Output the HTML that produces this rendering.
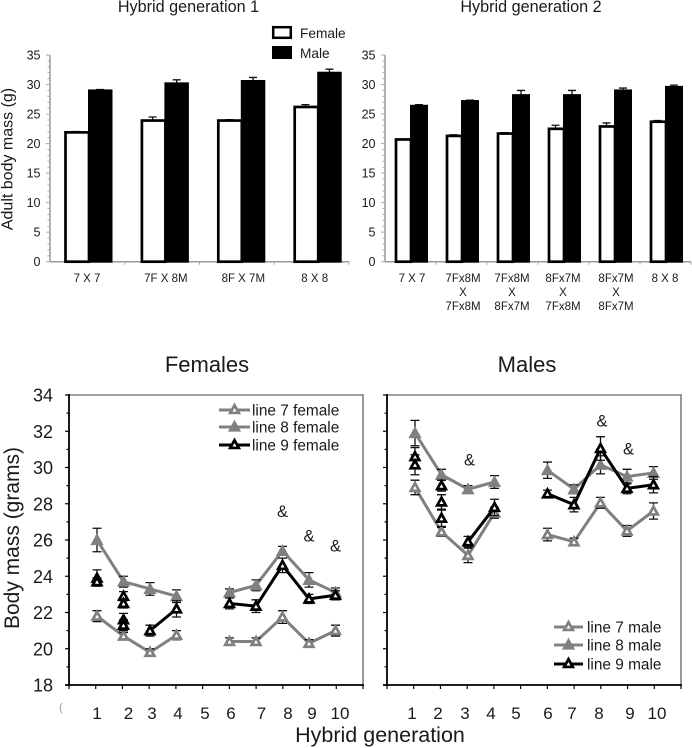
<!DOCTYPE html>
<html lang="en">
<head>
<meta charset="utf-8">
<title>Hybrid generation body mass</title>
<style>
html,body{margin:0;padding:0;background:#fff;width:692px;height:748px;overflow:hidden}
svg{display:block;font-family:"Liberation Sans",sans-serif;fill:#1a1a1a;filter:blur(0.35px)}
text{fill:#1a1a1a}
</style>
</head>
<body>
<svg id="fig" xmlns="http://www.w3.org/2000/svg" width="692" height="748" viewBox="0 0 692 748">
  <text x="188.500" y="12" font-size="16.200" text-anchor="middle">Hybrid generation 1</text>
  <text x="531" y="12" font-size="16.200" text-anchor="middle">Hybrid generation 2</text>
  <text transform="translate(12.500,159) rotate(-90)" font-size="16" text-anchor="middle">Adult body mass (g)</text>
  <rect x="273.200" y="27.200" width="17.600" height="10.600" fill="#fff" stroke="#000" stroke-width="2.500"/>
  <text x="300" y="38" font-size="13.700">Female</text>
  <rect x="272" y="46" width="20" height="13" fill="#000"/>
  <text x="300" y="58" font-size="13.700">Male</text>
  <text x="207" y="372" font-size="22" text-anchor="middle">Females</text>
  <text x="527" y="372" font-size="22" text-anchor="middle">Males</text>
  <text transform="translate(19,538) rotate(-90)" font-size="21" text-anchor="middle">Body mass (grams)</text>
  <text x="380" y="742" font-size="21.500" text-anchor="middle">Hybrid generation</text>
  <text x="59" y="711" font-size="11" style="fill:#999">(</text>
</svg>
<script>
// ---- Top bar charts ----
const g1Categories = [["7 X 7"], ["7F X 8M"], ["8F X 7M"], ["8 X 8"]];
const g1Female = [21.9, 23.9, 23.9, 26.2];
const g1FemaleErr = [0.15, 0.6, 0.15, 0.4];
const g1Male = [29.0, 30.2, 30.6, 32.0];
const g1MaleErr = [0.15, 0.6, 0.6, 0.6];

const g2Categories = [["7 X 7"], ["7Fx8M", "X", "7Fx8M"], ["7Fx8M", "X", "8Fx7M"], ["8Fx7M", "X", "7Fx8M"], ["8Fx7M", "X", "8Fx7M"], ["8 X 8"]];
const g2Female = [20.7, 21.3, 21.7, 22.5, 22.9, 23.7];
const g2FemaleErr = [0, 0.2, 0.15, 0.6, 0.6, 0.2];
const g2Male = [26.4, 27.2, 28.2, 28.2, 29.0, 29.6];
const g2MaleErr = [0.2, 0.15, 0.8, 0.8, 0.4, 0.3];

const barTicks = [0, 5, 10, 15, 20, 25, 30, 35];

// ---- Bottom line charts ----
const generations = [1, 2, 3, 4, 6, 7, 8, 9, 10];
const generationLabels = [1, 2, 3, 4, 5, 6, 7, 8, 9, 10];
const massTicks = [18, 20, 22, 24, 26, 28, 30, 32, 34];

const female7 = [21.8, 20.7, 19.8, 20.75, 20.4, 20.4, 21.75, 20.3, 21.0];
const female7Err = [0.3, 0.2, 0.2, 0.25, 0.2, 0.2, 0.35, 0.2, 0.3];
const female8 = [26.0, 23.7, 23.3, 22.9, 23.1, 23.5, 25.4, 23.8, 23.1];
const female8Err = [0.65, 0.3, 0.35, 0.35, 0.2, 0.3, 0.25, 0.4, 0.25];
const female9 = [null, null, 21.0, 22.2, 22.5, 22.35, 24.6, 22.75, 22.95];
const female9Err = [0, 0, 0.3, 0.45, 0.3, 0.35, 0.4, 0.25, 0.25];
const female9SubGen = [1, 1, 2, 2, 2, 2];
const female9SubVal = [23.9, 23.7, 22.9, 22.5, 21.6, 21.3];
const female9SubErr = [0.45, 0.2, 0.25, 0.25, 0.35, 0.3];

const male7 = [28.9, 26.45, 25.15, 27.5, 26.3, 25.9, 28.05, 26.5, 27.6];
const male7Err = [0.4, 0.25, 0.4, 0.3, 0.35, 0.2, 0.3, 0.3, 0.45];
const male8 = [31.9, 29.6, 28.8, 29.2, 29.85, 28.8, 30.15, 29.5, 29.7];
const male8Err = [0.7, 0.3, 0.2, 0.35, 0.45, 0.25, 0.5, 0.4, 0.35];
const male9 = [null, null, 25.9, 27.8, 28.55, 27.95, 31.05, 28.85, 29.05];
const male9Err = [0, 0, 0.3, 0.45, 0.2, 0.4, 0.65, 0.3, 0.45];
const male9SubGen = [1, 1, 2, 2, 2];
const male9SubVal = [30.6, 30.15, 29.0, 28.1, 27.2];
const male9SubErr = [0.5, 0.55, 0.3, 0.4, 0.45];

const femaleAmpGen = [8, 9, 10];
const femaleAmpVal = [27.6, 26.25, 25.7];
const maleAmpGen = [3, 8, 9];
const maleAmpVal = [30.45, 32.6, 31.05];

const femaleLegend = ["line 7 female", "line 8 female", "line 9 female"];
const maleLegend = ["line 7 male", "line 8 male", "line 9 male"];

// Hand-placed tick label shifts of the source figure (layout, not data)
const femaleLabelShift = [0, 5, 2, 1.5, 2, 1.5, 5.5, 5.5, 3, 4.5];
const maleLabelShift = [-3, -3.5, -3, -3.5, -5, 0.5, -2, -1.5, 3, 3.5];

const svg = document.getElementById('fig');
const NS = 'http://www.w3.org/2000/svg';
const GREY = '#808080';

function make(tag, attrs, parent) {
  const n = document.createElementNS(NS, tag);
  for (const k in attrs) n.setAttribute(k, attrs[k]);
  (parent || svg).appendChild(n);
  return n;
}
function line(x1, y1, x2, y2, color, w, parent) {
  return make('line', {x1: x1, y1: y1, x2: x2, y2: y2, stroke: color, 'stroke-width': w}, parent);
}
function label(x, y, str, size, anchor, parent) {
  const t = make('text', {x: x, y: y, 'font-size': size, 'text-anchor': anchor || 'middle'}, parent);
  t.textContent = str;
  return t;
}

// ---- Bar chart drawing ----
const barY = v => 261.7 - v * (206.7 / 35);

function barChart(name, axisLeft, axisRight, first, step, whiteW, blackW, cats, fem, femErr, mal, malErr, labelXs) {
  const g = make('g', {});
  
  

  const yAxis = line(axisLeft, barY(0), axisLeft, barY(35), '#999', 1.5, g);
  
  
  const xAxis = line(axisLeft, barY(0), axisRight, barY(0), '#999', 1.5, g);
  
  

  for (let v = 0; v <= 35; v++) {
    const len = v % 5 === 0 ? 4 : 2.5;
    const tick = line(axisLeft - len, barY(v), axisLeft, barY(v), '#aaa', 1, g);
    
    
  }
  barTicks.forEach(v => {
    const t = label(axisLeft - 9.5, barY(v) + 4.5, String(v), 12.5, 'end', g);
    
    
  });

  cats.forEach((cat, i) => {
    const c = first + step * i;
    const boundary = axisLeft + (axisRight - axisLeft) * (i + 1) / cats.length;
    const xt = line(boundary, barY(0), boundary, barY(0) + 3, '#aaa', 1, g);
    
    

    // error bars (drawn behind the bars)
    const fe = make('path', {d: `M${c - whiteW / 2} ${barY(fem[i])}V${barY(fem[i] + femErr[i])}M${c - whiteW / 2 - 4} ${barY(fem[i] + femErr[i])}h8`, stroke: '#111', 'stroke-width': 1.3, fill: 'none'}, g);
    
    
    const me = make('path', {d: `M${c + blackW / 2} ${barY(mal[i])}V${barY(mal[i] + malErr[i])}M${c + blackW / 2 - 4} ${barY(mal[i] + malErr[i])}h8`, stroke: '#111', 'stroke-width': 1.3, fill: 'none'}, g);
    
    

    const fb = make('rect', {x: c - whiteW + 1, y: barY(fem[i]), width: whiteW, height: barY(0) - barY(fem[i]), fill: '#fff', stroke: '#000', 'stroke-width': 2.7}, g);
    
    
    const mb = make('rect', {x: c, y: barY(mal[i]) - 1, width: blackW, height: barY(0) - barY(mal[i]) + 2, fill: '#000'}, g);
    
    

    cat.forEach((str, k) => {
      const t = label(labelXs(i, c), 282 + k * 14, str, 11.5, 'middle', g);
      
      
    });
  });
}

barChart('generation-1-bar-chart', 50, 349, 88, 76.4, 23.5, 24.5, g1Categories, g1Female, g1FemaleErr, g1Male, g1MaleErr, (i, c) => c + [-1, 1.5, 2.5, -2.5][i]);
barChart('generation-2-bar-chart', 385, 691, 410, 51, 15, 18, g2Categories, g2Female, g2FemaleErr, g2Male, g2MaleErr, (i, c) => c + [2, 2, 0, 0, 2, 0][i]);

// ---- Line chart drawing ----
const massY = v => 395 + (34 - v) * (290 / 16);

function triangle(cx, cy, color, filled, parent) {
  const s = filled ? 5.6 : 4.3;
  return make('path', {
    d: `M${cx} ${cy - s}L${cx + s} ${cy + s * 0.8}L${cx - s} ${cy + s * 0.8}Z`,
    fill: filled ? color : '#fff', stroke: color, 'stroke-width': filled ? 1.2 : 2.7, 'stroke-linejoin': 'miter'
  }, parent);
}
function errorBar(x, v, e, parent) {
  const p = make('path', {
    d: `M${x} ${massY(v + e)}V${massY(v - e)}M${x - 4.5} ${massY(v + e)}h9M${x - 4.5} ${massY(v - e)}h9`,
    stroke: '#111', 'stroke-width': 1.3, fill: 'none'
  }, parent);
  return p;
}
function series(name, xf, vals, errs, color, filled, parent) {
  const g = make('g', {}, parent);
  
  
  let d = '';
  let pen = false;
  generations.forEach((gen, i) => {
    if (vals[i] === null) { pen = false; return; }
    if (i > 0 && generations[i] - generations[i - 1] > 1) pen = false;
    d += (pen ? 'L' : 'M') + xf(gen) + ' ' + massY(vals[i]);
    pen = true;
  });
  const ln = make('path', {d: d, fill: 'none', stroke: color, 'stroke-width': 3}, g);
  
  
  generations.forEach((gen, i) => {
    if (vals[i] === null) return;
    const eb = errorBar(xf(gen), vals[i], errs[i], g);
    
    
  });
  generations.forEach((gen, i) => {
    if (vals[i] === null) return;
    const tr = triangle(xf(gen), massY(vals[i]), color, filled, g);
    
    
  });
}
function subPoints(name, xf, gens, vals, errs, parent) {
  const g = make('g', {}, parent);
  
  
  gens.forEach((gen, i) => {
    const eb = errorBar(xf(gen), vals[i], errs[i], g);
    
    
  });
  gens.forEach((gen, i) => {
    const tr = triangle(xf(gen), massY(vals[i]), '#000', false, g);
    
    
  });
}
function legend(entries, x1, x2, textX, ys, parent) {
  const colors = [GREY, GREY, '#000'];
  const fills = [false, true, false];
  entries.forEach((str, i) => {
    const g = make('g', {}, parent);
    
    
    line(x1, ys[i], x2, ys[i], colors[i], 3, g);
    triangle((x1 + x2) / 2, ys[i] - 0.5, colors[i], fills[i], g);
    label(textX, ys[i] + 5.5, str, 15.4, 'start', g);
  });
}

function panel(name, left, right, xf, showLabels, shifts) {
  const g = make('g', {});
  
  
  const top = massY(34), bottom = massY(18);
  const tb = line(left, top, right + 1, top, GREY, 1.6, g);
  
  
  const rb = line(right, top, right, bottom, GREY, 1.6, g);
  
  
  const la = line(left, top - 1, left, bottom + 1, '#000', 1.8, g);
  
  
  const ba = line(left - 4, bottom, right + 1, bottom, '#000', 1.8, g);
  
  

  for (let v = 18; v <= 34; v++) {
    const tk = line(left - (v % 2 === 0 ? 4 : 2.5), massY(v), left, massY(v), '#000', 1.2, g);
    
    
  }
  for (let t = 0; t <= 11; t++) {
    const tx = left + (right - left) * t / 11;
    const tk = line(tx, bottom, tx, bottom + 4, '#000', 1.2, g);
    
    
  }
  if (showLabels) {
    massTicks.forEach(v => {
      const t = label(left - 16, massY(v) + 6.5, String(v), 18, 'end', g);
      
      
    });
  }
  generationLabels.forEach((gen, i) => {
    const t = label(xf(gen) + shifts[i], 719, String(gen), 17, 'middle', g);
    
    
  });
  return g;
}

const xFemale = g => 70.5 + 26.5 * g;
const xMale = g => 388.5 + 26.5 * g;

const fp = panel('females-panel', 69, 363, xFemale, true, femaleLabelShift);
series('line-7-female', xFemale, female7, female7Err, GREY, false, fp);
series('line-8-female', xFemale, female8, female8Err, GREY, true, fp);
series('line-9-female', xFemale, female9, female9Err, '#000', false, fp);
subPoints('line-9-female-sublines', xFemale, female9SubGen, female9SubVal, female9SubErr, fp);
legend(femaleLegend, 219, 250, 252, [410, 427, 445], fp);
femaleAmpGen.forEach((gen, i) => {
  const t = label(xFemale(gen), massY(femaleAmpVal[i]) + 6, '&', 16.5, 'middle', fp);
  
  
});

const mp = panel('males-panel', 387, 681, xMale, false, maleLabelShift);
series('line-7-male', xMale, male7, male7Err, GREY, false, mp);
series('line-8-male', xMale, male8, male8Err, GREY, true, mp);
series('line-9-male', xMale, male9, male9Err, '#000', false, mp);
subPoints('line-9-male-sublines', xMale, male9SubGen, male9SubVal, male9SubErr, mp);
legend(maleLegend, 554, 583, 587, [627, 645, 664], mp);
maleAmpGen.forEach((gen, i) => {
  const t = label(xMale(gen) + 1.5, massY(maleAmpVal[i]) + 6, '&', 16.5, 'middle', mp);
  
  
});
</script>
</body>
</html>
